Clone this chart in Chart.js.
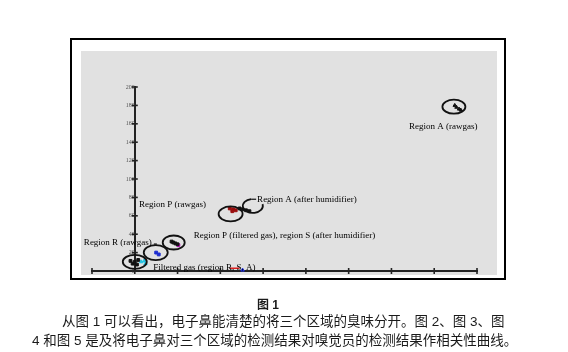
<!DOCTYPE html>
<html>
<head>
<meta charset="utf-8">
<script src="https://cdn.jsdelivr.net/npm/chart.js@4/dist/chart.umd.min.js"></script>
<style>
  body { margin: 0; background: #fff; width: 568px; height: 352px; position: relative; overflow: hidden; }
  #marco { position: absolute; left: 70px; top: 38px; width: 436px; height: 242px; border: 2px solid #000; box-sizing: border-box; }
  #fondo { position: absolute; left: 81px; top: 51px; width: 416px; height: 224px; background: #e1e1e1; }
  #lienzo { position: absolute; left: 0; top: 0; }
  .pie { position: absolute; font-family: "Liberation Sans", "Noto Sans CJK SC", sans-serif; color: #1a1a1a; font-size: 13.5px; line-height: 16px; white-space: nowrap; }
</style>
</head>
<body>
<div id="marco"></div>
<div id="fondo"></div>
<canvas id="lienzo" width="568" height="352"></canvas>
<div class="pie" style="left:257px;top:297px;font-weight:bold;font-size:12px;">图 1</div>
<div class="pie" style="left:62px;top:314px;">从图 1 可以看出，电子鼻能清楚的将三个区域的臭味分开。图 2、图 3、图</div>
<div class="pie" style="left:32px;top:333px;">4 和图 5 是及将电子鼻对三个区域的检测结果对嗅觉员的检测结果作相关性曲线。</div>
<script>
// Ejes
const ejeXMin = -1, ejeXMax = 8;
const ejeYMin = 0, ejeYMax = 200, pasoY = 20;

// Puntos de cada región
const regionARawX = [7.48, 7.52, 7.58, 7.62];
const regionARawY = [180, 178, 176, 175];
const regionAHumX = [2.45, 2.52, 2.6, 2.68];
const regionAHumY = [68, 67, 66, 65];
const regionAHumRojoX = [2.22, 2.3, 2.36, 2.28];
const regionAHumRojoY = [68, 67, 66, 65];
const regionPFiltX = [0.86, 0.9, 0.95, 1.0];
const regionPFiltY = [32, 31, 30, 29];
const magentaX = [1.02];
const magentaY = [28];
const regionRRawX = [0.5, 0.56];
const regionRRawY = [20, 18];
const filtradoX = [-0.1, -0.05, 0.0, 0.05, 0.08];
const filtradoY = [11, 8, 10, 7, 12];
const cianX = [0.15, 0.22, 0.25];
const cianY = [10, 11, 8];
const rojoLineaX = [2.22, 2.45];
const rojoLineaY = [3, 3];
const azulX = [2.52];
const azulY = [1];

// Elipses alrededor de los grupos (centros en unidades de datos)
const elipseX = [7.46, 2.24, 0.91, 0.49, 0.0];
const elipseY = [178.6, 62, 31, 20, 10];
const radiosElipse = [[11.5, 7], [12, 7.5], [11, 7], [12, 7.5], [12, 7]];

// Etiquetas de texto
const etiquetas = [
    'Region A (rawgas)',
    'Region A (after humidifier)',
    'Region P (rawgas)',
    'Region P (filtered gas), region S (after humidifier)',
    'Region R (rawgas)',
    'Filtered gas (region R, S, A)'
];
const etiquetaX = [6.41, 2.86, 0.10, 1.38, -1.19, 0.43];
const etiquetaY = [156.5, 78, 71.7, 38, 30.4, 3.3];

const toPoints = (xs, ys) => xs.map((v, i) => ({ x: v, y: ys[i] }));

const serie = (xs, ys, color, estilo) => ({
    data: toPoints(xs, ys),
    backgroundColor: color,
    borderColor: color,
    pointStyle: estilo,
    pointRadius: 2,
    borderWidth: 1,
    clip: false
});

// Plugin para marcas de ejes, elipses y textos
const anotaciones = {
    id: 'anotaciones',
    afterDraw(chart) {
        const { ctx, scales: { x, y } } = chart;
        const linea = (x1, y1, x2, y2) => {
            ctx.beginPath();
            ctx.moveTo(x1, y1);
            ctx.lineTo(x2, y2);
            ctx.stroke();
        };
        ctx.save();
        const x0 = x.getPixelForValue(0);
        const y0 = y.getPixelForValue(0);

        // marcas cruzadas
        ctx.strokeStyle = '#222';
        ctx.lineWidth = 1.6;
        y.ticks.forEach(t => {
            const py = y.getPixelForValue(t.value);
            linea(x0 - 3, py, x0 + 3, py);
        });
        x.ticks.forEach(t => {
            const px = x.getPixelForValue(t.value);
            linea(px, y0 - 3, px, y0 + 3);
        });

        // elipses
        ctx.strokeStyle = '#111';
        ctx.lineWidth = 1.8;
        elipseX.forEach((v, i) => {
            ctx.beginPath();
            ctx.ellipse(x.getPixelForValue(v), y.getPixelForValue(elipseY[i]), radiosElipse[i][0], radiosElipse[i][1], 0, 0, Math.PI * 2);
            ctx.stroke();
        });

        // curva de "Region A (after humidifier)"
        ctx.beginPath();
        ctx.ellipse(x.getPixelForValue(2.76), y.getPixelForValue(70.7), 10, 7, 0, -100 * Math.PI / 180, -15 * Math.PI / 180, true);
        ctx.stroke();

        // textos
        ctx.fillStyle = '#000';
        ctx.font = '9px "Liberation Serif"';
        ctx.textBaseline = 'middle';
        ctx.textAlign = 'left';
        etiquetas.forEach((txt, i) => {
            ctx.fillText(txt, x.getPixelForValue(etiquetaX[i]), y.getPixelForValue(etiquetaY[i]));
        });

        // guiones de las etiquetas
        ctx.lineWidth = 1.2;
        const ax = x.getPixelForValue(etiquetaX[1]), ay = y.getPixelForValue(etiquetaY[1]);
        linea(ax - 6, ay, ax - 1, ay);
        const rx = x.getPixelForValue(etiquetaX[4]) + ctx.measureText(etiquetas[4]).width;
        const ry = y.getPixelForValue(etiquetaY[4]);
        linea(rx + 2, ry + 1, rx + 5, ry + 1);

        ctx.restore();
    }
};

const ctx = document.getElementById('lienzo').getContext('2d');
new Chart(ctx, {
    type: 'scatter',
    data: {
        datasets: [
            serie(regionARawX, regionARawY, '#111', 'triangle'),
            serie(regionAHumX, regionAHumY, '#111', 'rect'),
            serie(regionAHumRojoX, regionAHumRojoY, '#9a0e0e', 'rect'),
            serie(regionPFiltX, regionPFiltY, '#111', 'rect'),
            serie(magentaX, magentaY, '#c010c0', 'rect'),
            serie(regionRRawX, regionRRawY, '#1f2fd0', 'rect'),
            serie(filtradoX, filtradoY, '#111', 'rect'),
            serie(cianX, cianY, '#22c4e4', 'triangle'),
            {
                type: 'line',
                data: toPoints(rojoLineaX, rojoLineaY),
                borderColor: '#e02020',
                borderWidth: 1.5,
                pointRadius: 0,
                clip: false
            },
            serie(azulX, azulY, '#1f2fe0', 'triangle')
        ]
    },
    options: {
        responsive: false,
        animation: false,
        layout: { padding: { left: 92, right: 91, top: 87, bottom: 81 } },
        plugins: { legend: { display: false }, tooltip: { enabled: false } },
        scales: {
            x: {
                type: 'linear',
                position: { y: 0 },
                min: ejeXMin,
                max: ejeXMax,
                ticks: { display: false, stepSize: 1 },
                grid: { display: false },
                border: { color: '#222', width: 2 }
            },
            y: {
                type: 'linear',
                position: { x: 0 },
                min: ejeYMin,
                max: ejeYMax,
                ticks: { stepSize: pasoY, color: '#555', padding: 1, font: { size: 6, family: 'Liberation Serif' } },
                grid: { display: false, tickLength: 5 },
                border: { color: '#222', width: 2 }
            }
        }
    },
    plugins: [anotaciones]
});
</script>
</body>
</html>
